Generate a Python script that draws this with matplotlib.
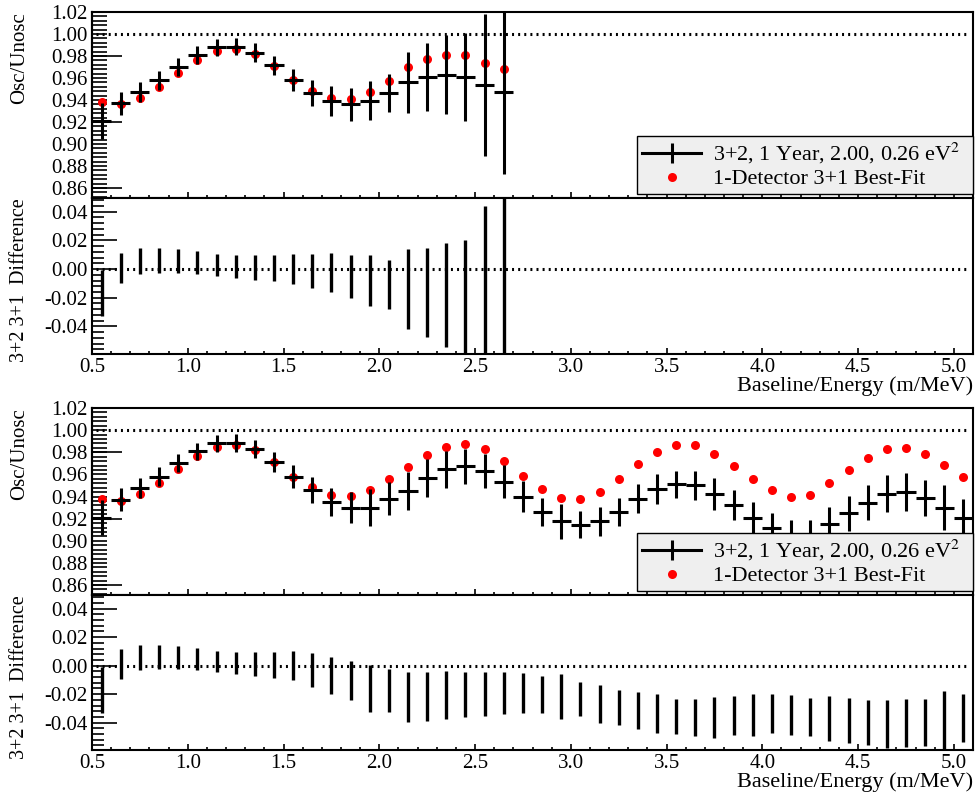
import numpy as np
import matplotlib
matplotlib.use('Agg')
import matplotlib.pyplot as plt
from matplotlib.lines import Line2D
from matplotlib.ticker import MultipleLocator, FormatStrFormatter

plt.rcParams['font.family'] = ['Liberation Serif', 'DejaVu Serif']
plt.rcParams['mathtext.fontset'] = 'stix'
plt.rcParams['axes.unicode_minus'] = False

# bin centres (m/MeV)
x_a = np.round(np.arange(0.55, 2.66, 0.1), 2)
x_b = np.round(np.arange(0.55, 5.06, 0.1), 2)

# block 1: 3+2 ratio, its errors and the 1-detector 3+1 best fit
osc_a = [0.921, 0.937, 0.9476, 0.958, 0.970, 0.981, 0.988, 0.9885, 0.983, 0.9715, 0.958,
         0.9467, 0.9394, 0.936, 0.9395, 0.9464, 0.9564, 0.961, 0.963, 0.9612, 0.9536, 0.947]
err_a = [0.016, 0.0105, 0.009, 0.0085, 0.0082, 0.0078, 0.0075, 0.0078, 0.0085, 0.009, 0.0102,
         0.0118, 0.0135, 0.015, 0.0178, 0.017, 0.0277, 0.031, 0.036, 0.040, 0.0644, 0.0745]
fit_a = [0.938, 0.936, 0.942, 0.952, 0.9645, 0.9765, 0.985, 0.9867, 0.982, 0.971, 0.958,
         0.948, 0.942, 0.941, 0.9475, 0.957, 0.9703, 0.977, 0.981, 0.981, 0.974, 0.968]

# block 2
osc_b = [0.921, 0.937, 0.9476, 0.958, 0.970, 0.981, 0.988, 0.9885, 0.983, 0.9715, 0.958,
         0.9457, 0.9351, 0.930, 0.930, 0.9382, 0.945, 0.9564, 0.9645, 0.9673, 0.9633, 0.9533,
         0.940, 0.926, 0.9175, 0.9145, 0.9175, 0.926, 0.938, 0.9466, 0.9509, 0.950, 0.942,
         0.9327, 0.9206, 0.9118, 0.9048, 0.9057, 0.9148, 0.925, 0.9345, 0.9424, 0.9439,
         0.9387, 0.930, 0.9206]
err_b = [0.016, 0.0105, 0.009, 0.0085, 0.0082, 0.0078, 0.0075, 0.0078, 0.0085, 0.009, 0.0102,
         0.0117, 0.013, 0.0137, 0.0165, 0.015, 0.0176, 0.0171, 0.0167, 0.016, 0.0153, 0.0149,
         0.014, 0.013, 0.0157, 0.0121, 0.0133, 0.0125, 0.013, 0.0136, 0.0124, 0.0132, 0.0146,
         0.0135, 0.0147, 0.0135, 0.014, 0.0134, 0.0156, 0.0158, 0.016, 0.0167, 0.017,
         0.0167, 0.0205, 0.017]
fit_b = [0.938, 0.936, 0.942, 0.952, 0.9645, 0.9765, 0.985, 0.9867, 0.982, 0.971, 0.958,
         0.9487, 0.9418, 0.9406, 0.946, 0.9555, 0.967, 0.9778, 0.9851, 0.9875, 0.983, 0.9724,
         0.959, 0.9464, 0.939, 0.9378, 0.9442, 0.9555, 0.9694, 0.980, 0.9866, 0.9863, 0.9785,
         0.9678, 0.9555, 0.9455, 0.9397, 0.9418, 0.9518, 0.9636, 0.9745, 0.9833, 0.9842,
         0.9785, 0.9685, 0.9573]

lab_osc = '3+2, 1 Year, 2.00, 0.26 eV$^{2}$'
lab_fit = '1-Detector 3+1 Best-Fit'

DOTS = (0, (0.65, 1.35))

fig = plt.figure(figsize=(9.77, 7.92), dpi=100)
L, W = 0.0942, 0.9017
ax1 = fig.add_axes([L, 0.750, W, 0.2348])
ax2 = fig.add_axes([L, 0.553, W, 0.1970])
ax3 = fig.add_axes([L, 0.2487, W, 0.2361])
ax4 = fig.add_axes([L, 0.053, W, 0.1957])


def style_x(ax, labels):
    ax.set_xlim(0.5, 5.1)
    ax.xaxis.set_major_locator(MultipleLocator(0.5))
    ax.xaxis.set_minor_locator(MultipleLocator(0.1))
    ax.xaxis.set_major_formatter(FormatStrFormatter('%.1f'))
    ax.tick_params(axis='x', which='major', direction='in', length=4.5, width=1.2,
                   labelsize=15, pad=3, labelbottom=labels)
    ax.tick_params(axis='x', which='minor', direction='in', length=2.2, width=1.2)
    for s in ax.spines.values():
        s.set_linewidth(1.5)


def draw_block(ax_t, ax_d, x, osc, err, fit):
    osc = np.array(osc)
    err = np.array(err)
    fit = np.array(fit)

    # ratio panel
    ax_t.errorbar(x, osc, xerr=0.05, yerr=err, fmt='none', ecolor='black',
                  elinewidth=2.2, capsize=0, zorder=3)
    ax_t.plot(x, fit, 'o', color='red', ms=6.5, mec='none', zorder=2)
    ax_t.axhline(1.0, xmin=0.005, xmax=0.995, color='black', lw=2.2,
                 linestyle=DOTS, zorder=1)
    ax_t.set_ylim(0.851, 1.02)
    ax_t.yaxis.set_major_locator(MultipleLocator(0.02))
    ax_t.yaxis.set_minor_locator(MultipleLocator(0.004))
    ax_t.yaxis.set_major_formatter(FormatStrFormatter('%.2f'))
    ax_t.tick_params(axis='y', which='both', direction='in', length=10.8, width=1.2,
                     labelsize=15, pad=3)
    sec = ax_t.secondary_yaxis('left')
    sec.set_yticks([0.86, 0.92, 0.98])
    sec.tick_params(axis='y', direction='in', length=21.6, width=1.2, labelleft=False)
    sec.spines['left'].set_linewidth(1.5)
    style_x(ax_t, False)
    ax_t.set_ylabel('Osc/Unosc', fontsize=15, loc='top')
    ax_t.yaxis.set_label_coords(-0.071, 1.0)

    h_osc = Line2D([], [], color='black', lw=2.2, marker='|', ms=15, mew=2.2)
    h_fit = Line2D([], [], color='red', lw=0, marker='o', ms=6.5, mec='none')
    leg = ax_t.legend([h_osc, h_fit], [lab_osc, lab_fit], loc='lower left',
                      bbox_to_anchor=(0.619, 0.02, 0.381, 0.3), mode='expand',
                      borderaxespad=0, fontsize=16, handlelength=2.65, handletextpad=0.55,
                      labelspacing=0.12, borderpad=0.22, fancybox=False,
                      facecolor='#efefef', edgecolor='black', framealpha=1)
    leg.get_frame().set_linewidth(1.0)

    # difference panel
    ax_d.errorbar(x, osc - fit, yerr=err, fmt='none', ecolor='black',
                  elinewidth=2.4, capsize=0, zorder=3)
    ax_d.axhline(0.0, xmin=0.005, xmax=0.995, color='black', lw=2.2,
                 linestyle=DOTS, zorder=1)
    ax_d.set_ylim(-0.0592, 0.0495)
    ax_d.yaxis.set_major_locator(MultipleLocator(0.02))
    ax_d.yaxis.set_minor_locator(MultipleLocator(0.004))
    ax_d.yaxis.set_major_formatter(FormatStrFormatter('%.2f'))
    ax_d.tick_params(axis='y', which='major', direction='in', length=18, width=1.2,
                     labelsize=15, pad=3)
    ax_d.tick_params(axis='y', which='minor', direction='in', length=8.6, width=1.2)
    style_x(ax_d, True)
    ax_d.set_ylabel('3+2 3+1  Difference', fontsize=14.5, loc='top')
    ax_d.yaxis.set_label_coords(-0.071, 1.0)
    ax_d.set_xlabel('Baseline/Energy (m/MeV)', fontsize=16, loc='right')
    ax_d.xaxis.set_label_coords(1.0, -0.145)


draw_block(ax1, ax2, x_a, osc_a, err_a, fit_a)
draw_block(ax3, ax4, x_b, osc_b, err_b, fit_b)

fig.savefig('out.png', dpi=100)
